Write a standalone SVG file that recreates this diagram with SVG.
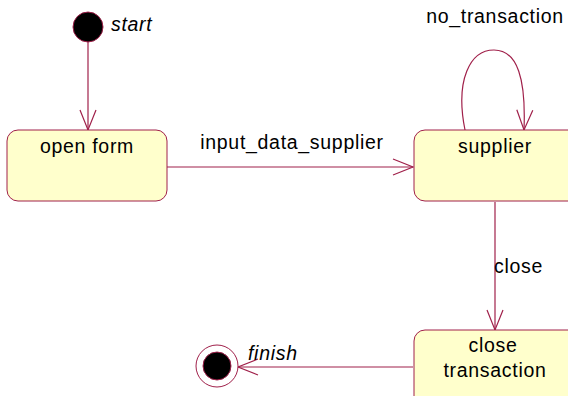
<svg xmlns="http://www.w3.org/2000/svg" width="568" height="396" viewBox="0 0 568 396">
<style>
.st{fill:#ffffcc;stroke:#a0204a;stroke-width:1}
.c{fill:none;stroke:#a0204a;stroke-width:1.2}
.t{font-family:"Liberation Sans",Arial,sans-serif;font-size:19.5px;letter-spacing:0.7px;fill:#000}
.i{font-style:italic}
</style>
<defs>
<marker id="a" markerWidth="24" markerHeight="20" refX="22" refY="10" orient="auto" markerUnits="userSpaceOnUse">
<path d="M2,2 L22,10 L2,18" fill="none" stroke="#a0204a" stroke-width="1.2"/>
</marker>
</defs>
<g id="connectors">
<line class="c" x1="88" y1="41" x2="88" y2="130" marker-end="url(#a)"/>
<line class="c" x1="167" y1="167" x2="413" y2="167" marker-end="url(#a)"/>
<text class="t" x="292" y="149" text-anchor="middle">input_data_supplier</text>
<path class="c" d="M465,130 C455,80 470,50 494,50 C518,50 526,80 524,130" marker-end="url(#a)"/>
<text class="t" x="495" y="23" text-anchor="middle">no_transaction</text>
<line class="c" x1="495" y1="202" x2="495" y2="330" marker-end="url(#a)"/>
<text class="t" x="494" y="273">close</text>
<line class="c" x1="413" y1="367" x2="238" y2="367" marker-end="url(#a)"/>
</g>
<g id="start">
<circle cx="88" cy="27" r="15" fill="#000" stroke="#a0204a" stroke-width="1"/>
<text class="t i" x="111" y="31">start</text>
</g>
<g id="open_form">
<rect class="st" x="7" y="130" width="160" height="71" rx="11"/>
<text class="t" x="87" y="153" text-anchor="middle">open form</text>
</g>
<g id="supplier">
<rect class="st" x="414" y="130" width="170" height="71" rx="11"/>
<text class="t" x="495" y="153" text-anchor="middle">supplier</text>
</g>
<g id="close_transaction">
<rect class="st" x="414" y="330" width="170" height="80" rx="11"/>
<text class="t" x="493" y="352" text-anchor="middle">close</text>
<text class="t" x="495" y="377" text-anchor="middle">transaction</text>
</g>
<g id="finish">
<circle cx="217" cy="366" r="21" fill="#fff" stroke="#a0204a" stroke-width="1"/>
<circle cx="217" cy="366" r="14" fill="#000" stroke="#a0204a" stroke-width="1"/>
<text class="t i" x="248" y="360">finish</text>
</g>
</svg>
